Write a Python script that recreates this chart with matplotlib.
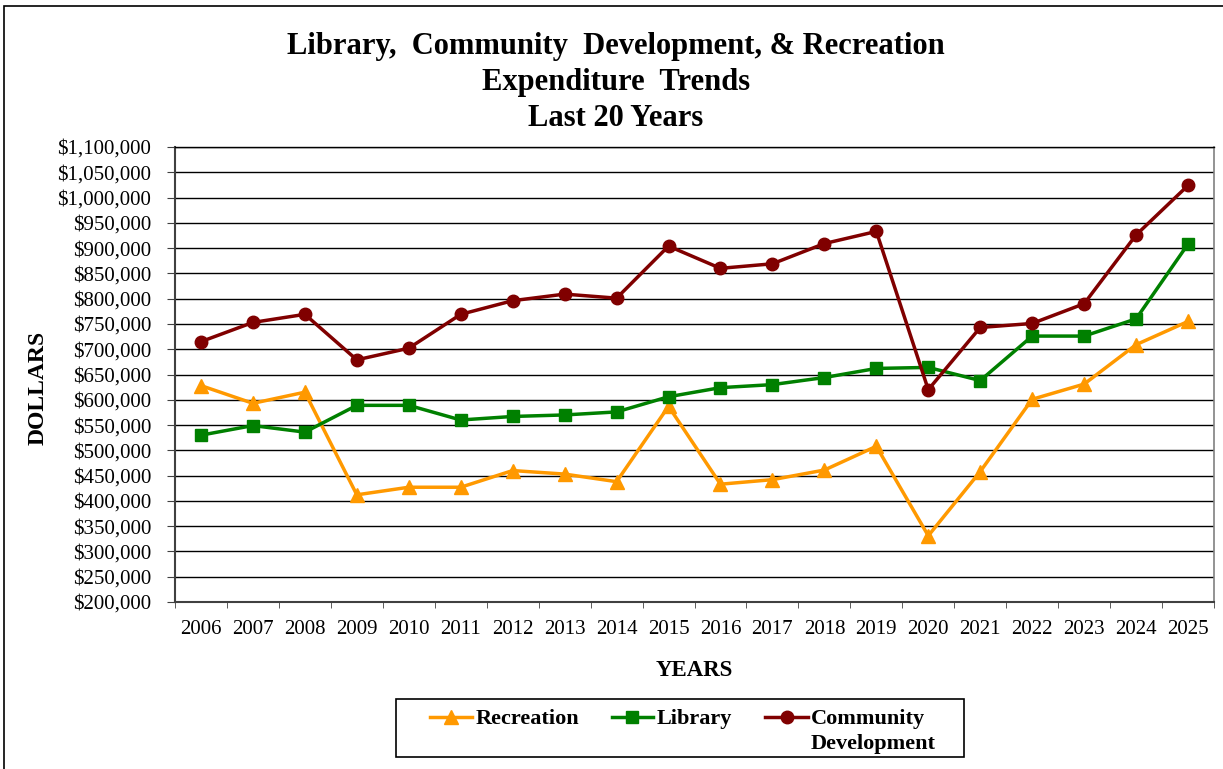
import matplotlib
matplotlib.use("Agg")
import matplotlib.pyplot as plt
from matplotlib.ticker import FuncFormatter, FixedLocator
from matplotlib.patches import Rectangle
from matplotlib.lines import Line2D

years = [str(y) for y in range(2006, 2026)]

recreation = [628000, 593000, 615000, 412000, 427000, 427000, 460000, 453000, 438000, 587000,
              433000, 442000, 461000, 508000, 331000, 458000, 601000, 631000, 709000, 755000]
library = [530000, 549000, 536000, 589000, 589000, 560000, 567000, 570000, 576000, 606000,
           624000, 630000, 644000, 662000, 664000, 638000, 726000, 726000, 760000, 908000]
community = [715000, 753000, 769000, 679000, 702000, 769000, 796000, 809000, 801000, 904000,
             860000, 869000, 909000, 933000, 620000, 743000, 751000, 790000, 926000, 1024000]

series_names = ["Recreation", "Library", "Community\nDevelopment"]
title = "Library,  Community  Development, & Recreation\nExpenditure  Trends\nLast 20 Years"

W, H = 1223, 769
plt.rcParams["font.family"] = ["Liberation Serif", "DejaVu Serif"]

fig = plt.figure(figsize=(W / 100, H / 100), dpi=100)
fig.patch.set_facecolor("white")


def fx(px):
    return px / W


def fy(py):
    return 1 - py / H


# outer chart frame
fig.patches.append(Rectangle((fx(3.5), -0.05), 1.2, fy(5.5) + 0.05,
                             transform=fig.transFigure, fill=False,
                             edgecolor="black", linewidth=1.2, zorder=0))

left, right, top, bottom = 175, 1214, 147, 602
ax = fig.add_axes([fx(left), fy(bottom), (right - left) / W, (bottom - top) / H])

x = list(range(len(years)))
styles = [
    dict(color="#FF9900", marker="^", ms=9.5),
    dict(color="#008000", marker="s", ms=9),
    dict(color="#800000", marker="o", ms=9),
]
for vals, name, st in zip([recreation, library, community], series_names, styles):
    ax.plot(x, vals, lw=2.5, zorder=3, label=name, **st)

ax.set_xlim(-0.5, len(years) - 0.5)
ax.set_ylim(200000, 1100000)
ax.set_yticks(range(200000, 1100001, 50000))
ax.yaxis.set_major_formatter(FuncFormatter(lambda v, p: f"${v:,.0f}"))
ax.grid(axis="y", color="black", lw=1.0)
ax.set_axisbelow(True)

ax.set_xticks(x)
ax.set_xticklabels(years)
ax.xaxis.set_minor_locator(FixedLocator([i - 0.5 for i in range(len(years) + 1)]))
ax.tick_params(axis="x", which="major", length=0, pad=13, labelsize=15)
ax.tick_params(axis="x", which="minor", length=4.5, direction="out", color="#404040")
ax.tick_params(axis="y", length=5.8, direction="out", pad=11.5, labelsize=15, color="#404040")

for s in ["left", "bottom"]:
    ax.spines[s].set_color("#404040")
    ax.spines[s].set_linewidth(1.5)
ax.spines["top"].set_color("black")
ax.spines["top"].set_linewidth(1.0)
ax.spines["right"].set_color("#808080")
ax.spines["right"].set_linewidth(1.2)

fig.text(fx(616), fy(126), title, ha="center", va="baseline", fontsize=22,
         fontweight="bold", linespacing=1.32)
fig.text(fx(694), fy(670), "YEARS", ha="center", va="center", fontsize=16.5,
         fontweight="bold")
fig.text(fx(38.5), fy(388), "DOLLARS", ha="center", va="center", fontsize=17,
         fontweight="bold", rotation=90)

# legend box with line/marker keys
fig.patches.append(Rectangle((fx(395.5), fy(757)), (963.5 - 395.5) / W, (757 - 698.5) / H,
                             transform=fig.transFigure, fill=False,
                             edgecolor="black", linewidth=1.2, zorder=5))
key_x = [(430, 472), (611.5, 653), (765, 808)]
text_x = [475.5, 656.5, 810.5]
key_y = 716.5
for (x0, x1), tx, name, st in zip(key_x, text_x, series_names, styles):
    fig.lines.append(Line2D([fx(x0), fx(x1)], [fy(key_y), fy(key_y)],
                            transform=fig.transFigure, lw=2.5, color=st["color"]))
    fig.lines.append(Line2D([fx((x0 + x1) / 2)], [fy(key_y)], transform=fig.transFigure,
                            lw=0, marker=st["marker"], ms=st["ms"], color=st["color"]))
    for k, part in enumerate(name.split("\n")):
        fig.text(fx(tx), fy(724 + 25.5 * k), part, ha="left", va="baseline",
                 fontsize=16, fontweight="bold")

fig.savefig("out.png", dpi=100, facecolor="white")
